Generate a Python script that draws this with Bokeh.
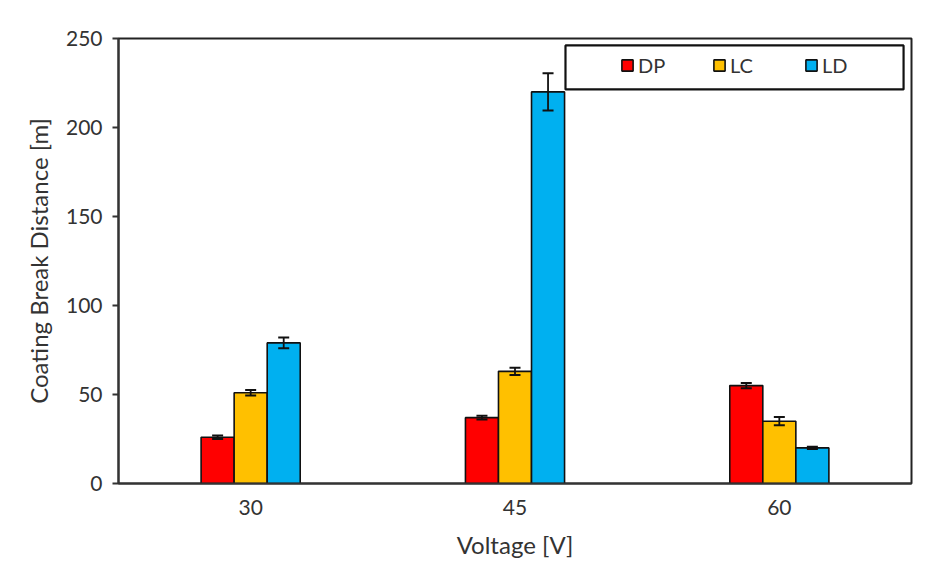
from bokeh.plotting import figure
from bokeh.models import (ColumnDataSource, Range1d, FixedTicker, Whisker, TeeHead,
                          Legend, LegendItem, BoxAnnotation)
from bokeh.embed import file_html
from bokeh.resources import INLINE

# ---- data ----
categories = ["30", "45", "60"]
series = ["DP", "LC", "LD"]
dp_vals = [26, 37, 55]
lc_vals = [51, 63, 35]
ld_vals = [79, 220, 20]
dp_err = [1.0, 1.0, 1.5]
lc_err = [1.5, 2.0, 2.3]
ld_err = [3.0, 10.5, 0.6]
colors = ["#FF0000", "#FFC000", "#00B0F0"]
y_ticks = [0, 50, 100, 150, 200, 250]

FONT = "Lato"
bar_w = 0.125
offsets = [-bar_w, 0.0, bar_w]

p = figure(width=932, height=561, output_backend="svg", toolbar_location=None,
           x_range=Range1d(-0.5, 2.5), y_range=Range1d(0, 250),
           min_border_left=118, min_border_right=21, min_border_top=38,
           min_border_bottom=77)
p.background_fill_color = "white"
p.border_fill_color = "white"
p.outline_line_color = "#222222"
p.outline_line_width = 2
p.grid.visible = False

vals = [dp_vals, lc_vals, ld_vals]
errs = [dp_err, lc_err, ld_err]
items = []
for name, v, e, c, off in zip(series, vals, errs, colors, offsets):
    xs = [i + off for i in range(len(categories))]
    src = ColumnDataSource(dict(x=xs, top=v,
                                upper=[a + b for a, b in zip(v, e)],
                                lower=[a - b for a, b in zip(v, e)]))
    r = p.vbar(x="x", top="top", width=bar_w, source=src, fill_color=c,
               line_color="#111111", line_width=1.6)
    w = Whisker(base="x", upper="upper", lower="lower", source=src,
                line_color="#111111", line_width=1.8, level="overlay",
                upper_head=TeeHead(size=11, line_width=2, line_color="#111111"),
                lower_head=TeeHead(size=11, line_width=2, line_color="#111111"))
    p.add_layout(w)
    items.append(LegendItem(label=name, renderers=[r]))

legend = Legend(items=items, orientation="horizontal", location=(502, 406),
                padding=0, spacing=44, glyph_width=14, glyph_height=14,
                label_width=30, label_standoff=4, label_text_font=FONT,
                label_text_font_size="20px", label_text_color="#333333",
                border_line_alpha=0, background_fill_alpha=0)
p.add_layout(legend, "center")

box = BoxAnnotation(left=1.191, right=2.470, bottom=221.4, top=246.1,
                    fill_alpha=0, line_color="#111111", line_alpha=1.0,
                    line_width=2.2, level="overlay")
p.add_layout(box)

# axes
p.xaxis.ticker = FixedTicker(ticks=list(range(len(categories))))
p.xaxis.major_label_overrides = {i: c for i, c in enumerate(categories)}
p.xaxis.major_tick_line_color = None
p.xaxis.minor_tick_line_color = None
p.xaxis.axis_line_color = "#333333"
p.xaxis.axis_line_width = 2
p.xaxis.major_label_standoff = 10
p.xaxis.axis_label = "Voltage [V]"
p.xaxis.axis_label_standoff = 12

p.yaxis.ticker = FixedTicker(ticks=y_ticks)
p.yaxis.minor_tick_line_color = None
p.yaxis.major_tick_in = 0
p.yaxis.major_tick_out = 6
p.yaxis.major_tick_line_color = "#333333"
p.yaxis.major_tick_line_width = 2
p.yaxis.axis_line_color = "#333333"
p.yaxis.axis_line_width = 2
p.yaxis.major_label_standoff = 10
p.yaxis.axis_label = "Coating Break Distance [m]"
p.yaxis.axis_label_standoff = 10

for ax in (p.xaxis, p.yaxis):
    ax.major_label_text_font = FONT
    ax.major_label_text_font_size = "21px"
    ax.major_label_text_color = "#333333"
    ax.axis_label_text_font = FONT
    ax.axis_label_text_font_size = "24px"
    ax.axis_label_text_font_style = "normal"
    ax.axis_label_text_color = "#333333"

open("out.html", "w").write(file_html(p, INLINE))
